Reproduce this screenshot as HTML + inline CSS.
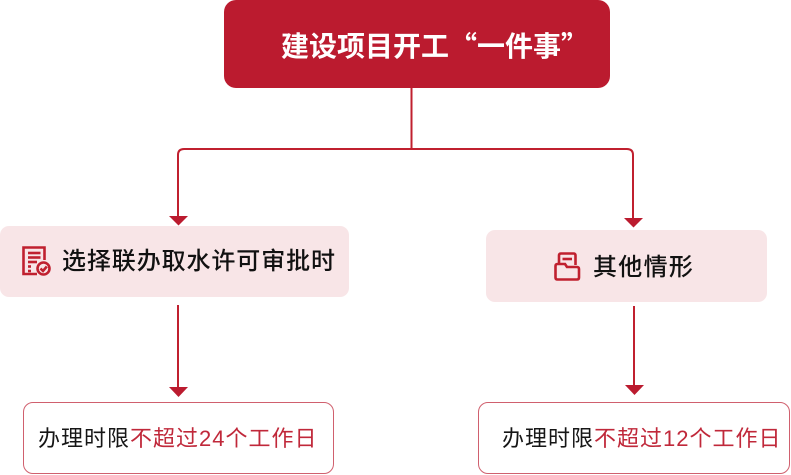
<!DOCTYPE html>
<html><head><meta charset="utf-8"><style>
html,body{margin:0;padding:0;background:#fff;}
body{width:791px;height:475px;position:relative;overflow:hidden;font-family:"Liberation Sans","Noto Sans CJK SC",sans-serif;}
.abs{position:absolute;box-sizing:border-box;}
.top{left:224px;top:0;width:386px;height:88px;background:#bb1b2f;border-radius:12px;}
.toptxt{left:281px;top:25px;height:40px;line-height:40px;color:#fff;font-weight:bold;font-size:28px;white-space:nowrap;font-family:"Noto Sans CJK SC","Liberation Sans",sans-serif;}
.q{font-feature-settings:"fwid";}
.mid{background:#f8e5e7;border-radius:9px;}
.midtxt{color:#111;font-size:24px;font-weight:500;white-space:nowrap;line-height:30px;font-family:"Liberation Sans","Noto Sans CJK SC",sans-serif;}
.bot{border:1.6px solid #d0606e;border-radius:10px;background:#fff;}
.bottxt{font-size:22px;letter-spacing:1px;white-space:nowrap;line-height:28px;color:#161616;font-family:"Liberation Sans","Noto Sans CJK SC",sans-serif;}
.r{color:#c0283a;}
</style></head><body>
<div class="abs top"></div>
<div class="abs toptxt">建设项目开工<span class="q">“</span>一件事<span class="q">”</span></div>

<div class="abs mid" style="left:0;top:226px;width:349px;height:71px;"></div>
<div class="abs midtxt" style="left:62px;top:247px;letter-spacing:0.9px;">选择联办取水许可审批时</div>

<div class="abs mid" style="left:486px;top:230px;width:281px;height:72px;"></div>
<div class="abs midtxt" style="left:593px;top:253px;letter-spacing:1.3px;">其他情形</div>

<div class="abs bot" style="left:23px;top:402px;width:311px;height:72px;"></div>
<div class="abs bottxt" style="left:38px;top:425px;">办理时限<span class="r">不超过24个工作日</span></div>

<div class="abs bot" style="left:478px;top:402px;width:312px;height:72px;"></div>
<div class="abs bottxt" style="left:502px;top:425px;">办理时限<span class="r">不超过12个工作日</span></div>

<svg class="abs" style="left:0;top:0" width="791" height="475" viewBox="0 0 791 475">
<g fill="none" stroke="#c0202f" stroke-width="2">
<path d="M411.5 88 V149"/>
<path d="M178 217 V155 Q178 149 184 149 H627 Q633 149 633 155 V219"/>
<path d="M178 305 V388"/>
<path d="M634 306 V386"/>
</g>
<g fill="#bb1b2f">
<polygon points="169,216 188,216 178.5,225.5"/>
<polygon points="624,218 643,218 633.5,227.5"/>
<polygon points="169,387 188,387 178.5,397"/>
<polygon points="625,385 644,385 634.5,395"/>
</g>
<!-- icon 1 -->
<g fill="none" stroke="#c0202f" stroke-width="2.6">
<path d="M37 274 H23.5 V247.5 H44.5 V260"/>
<path d="M28 253 H40.5"/>
<path d="M28 257.5 H40.5"/>
<path d="M28 262 H37"/>
<path d="M28 266.5 H31"/>
<path d="M28 271 H31"/>
<circle cx="43.5" cy="268.5" r="6"/>
<path d="M40.5 268.5 L43 271 L46.8 266.5"/>
</g>
<!-- icon 2 -->
<g fill="none" stroke="#c0202f" stroke-width="2.6">
<path d="M559 265 V255.5 Q559 253.5 561 253.5 H573.5 Q575.5 253.5 575.5 255.5 V265"/>
<path d="M562.5 259 H572"/>
<path d="M555.5 266 Q555.5 264 557.5 264 H565 L567 267 H577 Q579 267 579 269 V277.5 Q579 279.5 577 279.5 H557.5 Q555.5 279.5 555.5 277.5 Z"/>
</g>
</svg>
</body></html>
